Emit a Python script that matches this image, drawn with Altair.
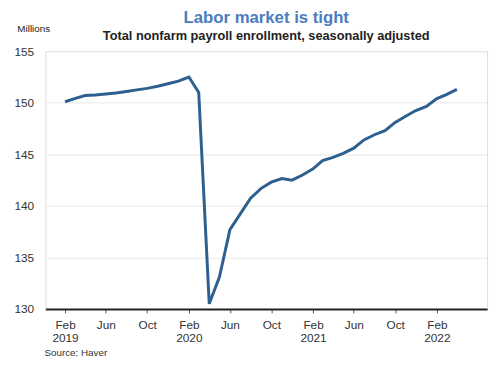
import altair as alt
import pandas as pd

months = list(pd.date_range("2019-02-01", periods=39, freq="MS").strftime("%Y-%m-%d"))
payroll = [
    150.1, 150.4, 150.7, 150.75, 150.85, 150.95, 151.1, 151.25, 151.4, 151.6, 151.85,
    152.1, 152.5, 151.0, 130.5, 133.1, 137.7, 139.2, 140.75, 141.7, 142.3, 142.65, 142.5,
    143.0, 143.6, 144.4, 144.7, 145.1, 145.6, 146.4, 146.9, 147.3, 148.1, 148.7, 149.25,
    149.65, 150.4, 150.8, 151.3,
]
tick_months = [(2019, 2), (2019, 6), (2019, 10), (2020, 2), (2020, 6), (2020, 10),
               (2021, 2), (2021, 6), (2021, 10), (2022, 2)]
y_ticks = [130, 135, 140, 145, 150, 155]

df = pd.DataFrame({"date": months, "value": payroll})

FONT = "Liberation Sans"

x_axis = alt.Axis(
    values=[alt.DateTime(year=y, month=m, date=1, utc=True) for y, m in tick_months],
    labelExpr="utcFormat(datum.value, '%m') == '02' ? [utcFormat(datum.value, '%b'), utcFormat(datum.value, '%Y')] : utcFormat(datum.value, '%b')",
    title=None, grid=False, domainColor="#222222", domainWidth=2,
    tickColor="#555555", tickSize=4, labelFontSize=12, labelColor="#333333",
    labelPadding=7, labelLineHeight=13, labelFont=FONT,
)
y_axis = alt.Axis(
    values=y_ticks, title="Millions", titleAngle=0, titleAlign="left",
    titleBaseline="middle", titleX=-29, titleY=-23, titleFontSize=10,
    titleFontWeight="normal", titleColor="#222222", titleFont=FONT,
    ticks=False, domain=False, grid=True, gridColor="#e8e8e8", gridWidth=1,
    labelFontSize=12, labelColor="#333333", labelPadding=12, labelFont=FONT,
)

line = alt.Chart(df).mark_line(color="#2d5f8f", strokeWidth=3).encode(
    x=alt.X("date:T", axis=x_axis,
            scale=alt.Scale(type="utc",
                            domain=[alt.DateTime(year=2018, month=12, date=5, utc=True),
                                    alt.DateTime(year=2022, month=6, date=29, utc=True)])),
    y=alt.Y("value:Q", axis=y_axis, scale=alt.Scale(domain=[130, 155], nice=False, zero=False)),
)

source = alt.Chart(pd.DataFrame({"t": ["Source: Haver"]})).mark_text(
    align="left", baseline="middle", fontSize=10, color="#333333", font=FONT
).encode(text="t:N", x=alt.value(-1), y=alt.value(307))

chart = alt.layer(line, source).properties(
    width=449, height=262,
    padding={"left": 38, "top": 41, "right": 5, "bottom": 54},
    autosize=alt.AutoSizeParams(type="none"),
    title=alt.TitleParams(
        "Labor market is tight",
        subtitle="Total nonfarm payroll enrollment, seasonally adjusted",
        anchor="middle", frame="group", fontSize=17, font=FONT, fontWeight="bold",
        color="#4a7dbd", subtitleFontSize=13, subtitleFont=FONT,
        subtitleFontWeight="bold", subtitleColor="#222222",
        subtitlePadding=4, offset=-21,
    ),
).configure_view(stroke=None).configure(background="white")

chart.save("out.html", embed_options={"renderer": "svg", "actions": False})
